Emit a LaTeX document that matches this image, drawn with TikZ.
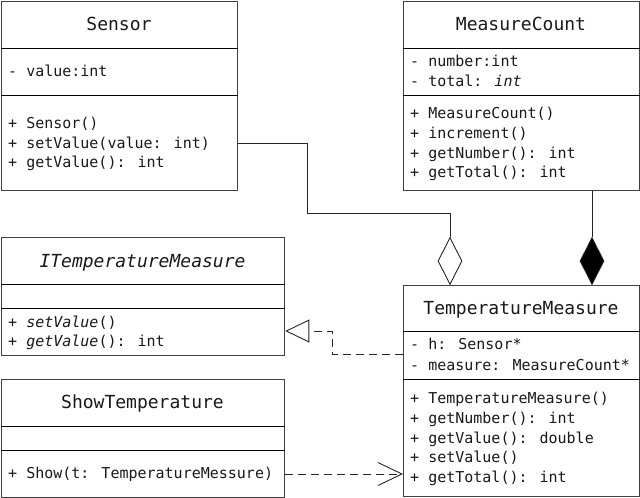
\documentclass[tikz,border=0pt]{standalone}
\usepackage{fontspec}
\newfontfamily\umlfont[ItalicFont={DejaVu Sans Mono Oblique}]{DejaVu Sans Mono}
\usetikzlibrary{shapes.geometric,arrows.meta}
\begin{document}
\begin{tikzpicture}[x=1pt,y=-1pt,
  box/.style={draw=black!75, line width=1.3pt, inner sep=0pt, anchor=north west},
  sep/.style={line width=0.9pt, draw=black},
  ttl/.style={anchor=base, font=\umlfont\fontsize{18}{20}\selectfont, inner sep=0pt, text=black!90},
  txt/.style={anchor=base west, font=\umlfont\fontsize{15}{18}\selectfont, inner sep=0pt, text=black!90},
  conn/.style={line width=0.9pt, draw=black!85},
  dsh/.style={conn, dash pattern=on 8pt off 5pt},
  dmd/.style={diamond, draw=black!85, line width=0.9pt, minimum width=24pt, minimum height=47pt, inner sep=0pt}]
\useasboundingbox (0,0) rectangle (640,498);

% Sensor
\node[box, minimum width=236pt, minimum height=189pt] (sensor) at (1,1) {};
\draw[sep] (sensor.west |- 0,48) -- (sensor.east |- 0,48);
\draw[sep] (sensor.west |- 0,95) -- (sensor.east |- 0,95);
\node[ttl] (sensorT) at (119,30.5) {Sensor};
\node[txt] (sensorA) at (8,76) {- value:int};
\node[txt] (sensorM1) at (8,128) {+ Sensor()};
\node[txt] (sensorM2) at (8,148) {+ setValue(value: int)};
\node[txt] (sensorM3) at (8,167) {+ getValue(): int};

% MeasureCount
\node[box, minimum width=236pt, minimum height=189pt] (mc) at (403,1) {};
\draw[sep] (mc.west |- 0,48) -- (mc.east |- 0,48);
\draw[sep] (mc.west |- 0,95) -- (mc.east |- 0,95);
\node[ttl] (mcT) at (521,30.5) {MeasureCount};
\node[txt] (mcA1) at (410,66) {- number:int};
\node[txt] (mcA2) at (410,86) {- total: \textit{int}};
\node[txt] (mcM1) at (410,118) {+ MeasureCount()};
\node[txt] (mcM2) at (410,138) {+ increment()};
\node[txt] (mcM3) at (410,158) {+ getNumber(): int};
\node[txt] (mcM4) at (410,177) {+ getTotal(): int};

% ITemperatureMeasure
\node[box, minimum width=283pt, minimum height=118pt] (itm) at (1,237) {};
\draw[sep] (itm.west |- 0,284) -- (itm.east |- 0,284);
\draw[sep] (itm.west |- 0,308) -- (itm.east |- 0,308);
\node[ttl] (itmT) at (142.5,267.5) {\itshape ITemperatureMeasure};
\node[txt] (itmM1) at (8,327) {+ \textit{setValue}()};
\node[txt] (itmM2) at (8,346) {+ \textit{getValue}(): int};

% ShowTemperature
\node[box, minimum width=283pt, minimum height=118pt] (st) at (1,379) {};
\draw[sep] (st.west |- 0,426) -- (st.east |- 0,426);
\draw[sep] (st.west |- 0,450) -- (st.east |- 0,450);
\node[ttl] (stT) at (142.5,408.5) {ShowTemperature};
\node[txt] (stM1) at (8,478) {+ Show(t: TemperatureMessure)};

% TemperatureMeasure
\node[box, minimum width=236pt, minimum height=211pt] (tm) at (403,285) {};
\draw[sep] (tm.west |- 0,331) -- (tm.east |- 0,331);
\draw[sep] (tm.west |- 0,379) -- (tm.east |- 0,379);
\node[ttl] (tmT) at (521,314.5) {TemperatureMeasure};
\node[txt] (tmA1) at (410,349) {- h: Sensor*};
\node[txt] (tmA2) at (410,370) {- measure: MeasureCount*};
\node[txt] (tmM1) at (410,403) {+ TemperatureMeasure()};
\node[txt] (tmM2) at (410,423) {+ getNumber(): int};
\node[txt] (tmM3) at (410,443) {+ getValue(): double};
\node[txt] (tmM4) at (410,462) {+ setValue()};
\node[txt] (tmM5) at (410,482) {+ getTotal(): int};

% diamonds
\node[dmd, fill=white] (aggD) at (450,261) {};
\node[dmd, fill=black] (compD) at (592,261) {};

% connectors
\coordinate (bend1) at (307,213);
\draw[conn] (sensor.east |- 0,143) -| (bend1) -| (aggD.north);
\draw[conn] (mc.south -| compD.north) -- (compD.north);

\coordinate (bend2) at (332,354);
\draw[dsh, -{Triangle[open, length=24pt, width=23pt, fill=white]}]
  (tm.west |- bend2) -- (bend2) |- (itm.east |- 0,331);

\draw[dsh, -{Straight Barb[length=24pt, width=23pt]}]
  (st.east |- 0,474) -- (tm.west |- 0,474);
\end{tikzpicture}
\end{document}
